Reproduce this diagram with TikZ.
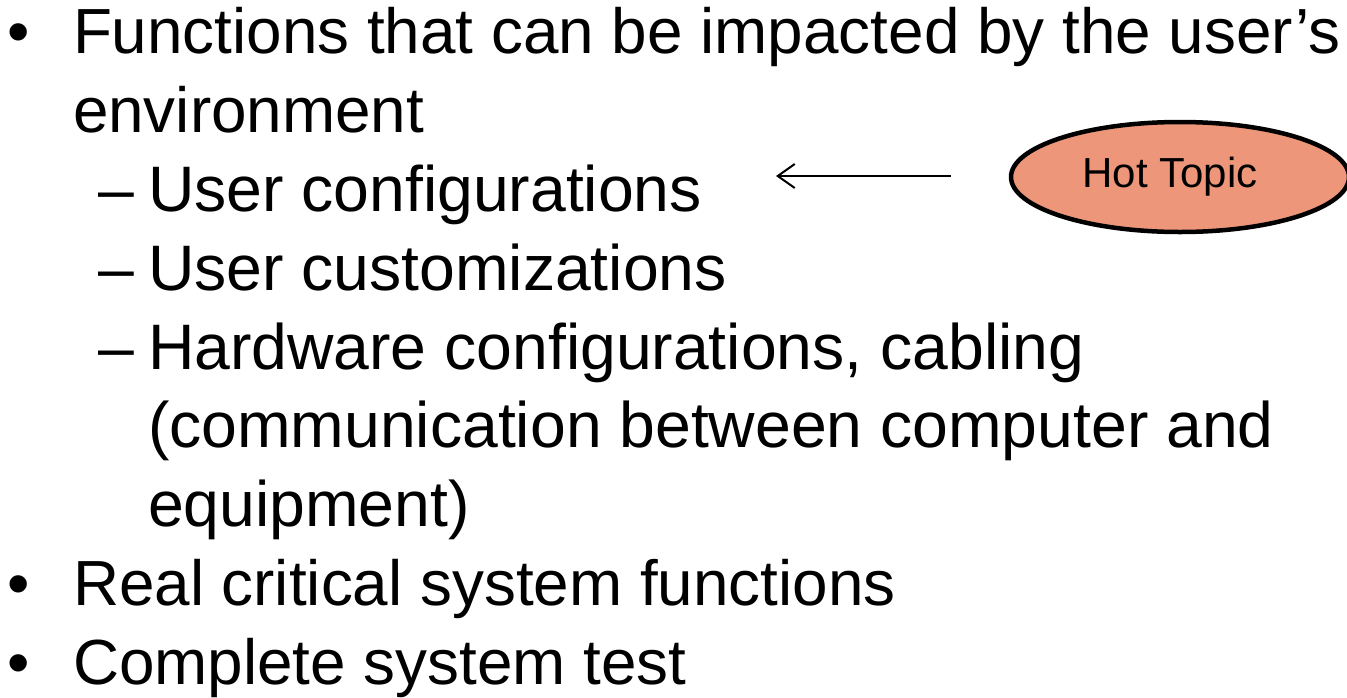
\documentclass[tikz,border=0pt]{standalone}
\usepackage{fontspec}
\setmainfont{Liberation Sans}
\usetikzlibrary{arrows.meta,shapes.geometric}
\definecolor{hotfill}{HTML}{ED967A}
\begin{document}
\begin{tikzpicture}[x=1pt,y=-1pt,
  line/.style={anchor=base west,inner sep=0pt,outer sep=0pt,
    font=\fontsize{63.8}{76}\selectfont},
  subline/.style={line,font=\fontsize{64.3}{77}\selectfont},
  bul/.style={line},
  tag/.style={ellipse,draw=black,line width=4.5pt,fill=hotfill,
    minimum width=338pt,minimum height=110pt,inner sep=0pt,
    font=\fontsize{42}{50}\selectfont},
  pointer/.style={line width=2pt,-{Straight Barb[length=17pt,width=24pt,line width=2pt]}}]
\useasboundingbox (0,0) rectangle (1347,697);
% first-level bullets
\node[bul] (b1) at (8,53) {•};
\node[line] (t1) at (73,53) {Functions that can be impacted by the user’s};
\node[line] (t2) at (73,132) {environment};
% second-level items
\node[subline] (d1) at (98,211) {–};
\node[subline] (s1) at (148,211) {User configurations};
\node[subline] (d2) at (98,290) {–};
\node[subline] (s2) at (148,290) {User customizations};
\node[subline] (d3) at (98,369) {–};
\node[subline] (s3) at (148,369) {Hardware configurations, cabling};
\node[subline] (s3b) at (148,447) {(communication between computer and};
\node[subline] (s3c) at (148,526) {equipment)};
% remaining first-level bullets
\node[bul] (b2) at (8,605) {•};
\node[line] (t3) at (73,605) {Real critical system functions};
\node[bul] (b3) at (8,684) {•};
\node[line] (t4) at (73,684) {Complete system test};
% callout
\node[tag] (hot) at (1180,177) {\hspace*{-20pt}Hot Topic};
\coordinate (tip) at (776,176);
\draw[pointer] (hot.west) ++(-58,-1) coordinate (tail) -- (tip);
\end{tikzpicture}
\end{document}
